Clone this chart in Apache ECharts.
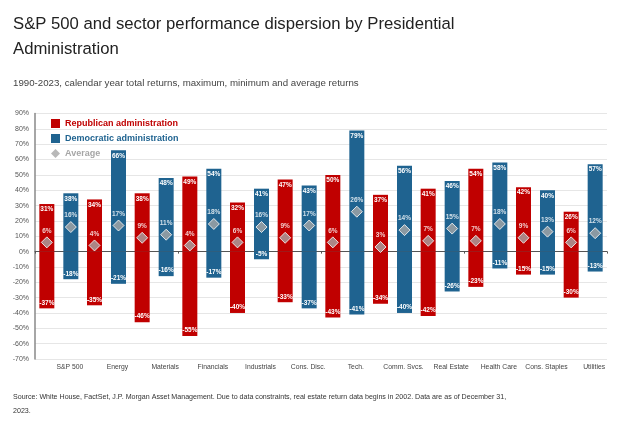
<!DOCTYPE html>
<html><head><meta charset="utf-8">
<script src="https://cdn.jsdelivr.net/npm/echarts@6/dist/echarts.min.js"></script>
<style>html,body{margin:0;padding:0;background:#fff}#c{width:624px;height:429px}</style>
</head><body><div id="c"></div>
<script>
const categories = ['S&P 500','Energy','Materials','Financials','Industrials','Cons. Disc.','Tech.','Comm. Svcs.','Real Estate','Health Care','Cons. Staples','Utilities'];
const repMax = [31,34,38,49,32,47,50,37,41,54,42,26];
const repMin = [-37,-35,-46,-55,-40,-33,-43,-34,-42,-23,-15,-30];
const repAvg = [6,4,9,4,6,9,6,3,7,7,9,6];
const demMax = [38,66,48,54,41,43,79,56,46,58,40,57];
const demMin = [-18,-21,-16,-17,-5,-37,-41,-40,-26,-11,-15,-13];
const demAvg = [16,17,11,18,16,17,26,14,15,18,13,12];
const yTicks = {min:-70, max:90, interval:10};

const RED = '#C00000', BLUE = '#1F6390', GRAY = '#A6A6A6';
const FONT = 'Liberation Sans, Arial, sans-serif';
const pct = p => p.value + '%';
const barLabel = pos => ({show:true, position:pos, distance:2, color:'#fff', fontSize:6.5, fontWeight:'bold', fontFamily:FONT, formatter:pct});

function barSeries(name, data, color, stack, pos){
  return {name, type:'bar', stack, data, barWidth:15, barGap:'60%', xAxisIndex:0,
    itemStyle:{color}, label:barLabel(pos), emphasis:{disabled:true}, z:2};
}
function avgSeries(data, offset){
  return {name:'Average', type:'scatter', data, xAxisIndex:0, symbol:'diamond', symbolSize:11,
    symbolOffset:[offset,0], itemStyle:{color:GRAY, borderColor:'#fff', borderWidth:1},
    label:{show:true, position:'top', distance:2, color:'#fff', fontSize:6.5, fontWeight:'bold', fontFamily:FONT, formatter:pct},
    labelLayout:{hideOverlap:false},
    emphasis:{disabled:true}, z:5};
}

const chart = echarts.init(document.getElementById('c'), null, {renderer:'canvas'});
chart.setOption({
  animation:false,
  backgroundColor:'#fff',
  title:[
    {text:'S&P 500 and sector performance dispersion by Presidential\nAdministration', left:8, top:7,
      textStyle:{fontFamily:FONT, fontSize:16.7, fontWeight:'normal', color:'#222', lineHeight:25}},
    {text:'1990-2023, calendar year total returns, maximum, minimum and average returns', left:8, top:73,
      textStyle:{fontFamily:FONT, fontSize:9.7, fontWeight:'normal', color:'#444'}},
    {text:'Source: White House, FactSet, J.P. Morgan Asset Management. Due to data constraints, real estate return data begins in 2002. Data are as of December 31,\n2023.', left:8, top:385,
      textStyle:{fontFamily:FONT, fontSize:7.1, fontWeight:'normal', color:'#333', lineHeight:14}}
  ],
  legend:{orient:'vertical', left:46, top:114, itemWidth:9, itemHeight:9, itemGap:6,
    textStyle:{fontFamily:FONT, fontSize:9, fontWeight:'bold'},
    data:[
      {name:'Republican administration', icon:'rect', itemStyle:{color:RED}, textStyle:{color:RED}},
      {name:'Democratic administration', icon:'rect', itemStyle:{color:BLUE}, textStyle:{color:BLUE}},
      {name:'Average', icon:'path://M5,0L10,5L5,10L0,5Z', itemStyle:{color:GRAY, borderWidth:0}, textStyle:{color:GRAY}}
    ], selectedMode:false},
  grid:{left:35, right:17, top:113.5, bottom:70, containLabel:false},
  xAxis:[
    {type:'category', data:categories, position:'bottom',
      axisLine:{show:false, onZero:false}, axisTick:{show:false},
      axisLabel:{interval:0, fontFamily:FONT, fontSize:6.8, color:'#444', margin:5, padding:[0,0,0,22]}},
    {type:'category', data:categories, position:'bottom',
      axisLine:{show:true, onZero:true, lineStyle:{color:'#555', width:1}},
      axisTick:{show:true, length:2, lineStyle:{color:'#555'}}, axisLabel:{show:false}}
  ],
  yAxis:{type:'value', min:yTicks.min, max:yTicks.max, interval:yTicks.interval,
    axisLine:{show:true, lineStyle:{color:'#888', width:1.5}}, axisTick:{show:false},
    axisLabel:{fontFamily:FONT, fontSize:7, color:'#555', margin:6, formatter:'{value}%'},
    splitLine:{lineStyle:{color:'#e6e6e6'}}},
  series:[
    barSeries('Republican administration', repMax, RED, 'R', 'insideTop'),
    barSeries('Republican administration', repMin, RED, 'R', 'insideBottom'),
    barSeries('Democratic administration', demMax, BLUE, 'D', 'insideTop'),
    barSeries('Democratic administration', demMin, BLUE, 'D', 'insideBottom'),
    avgSeries(repAvg, -12),
    avgSeries(demAvg, 12)
  ]
});
</script></body></html>
